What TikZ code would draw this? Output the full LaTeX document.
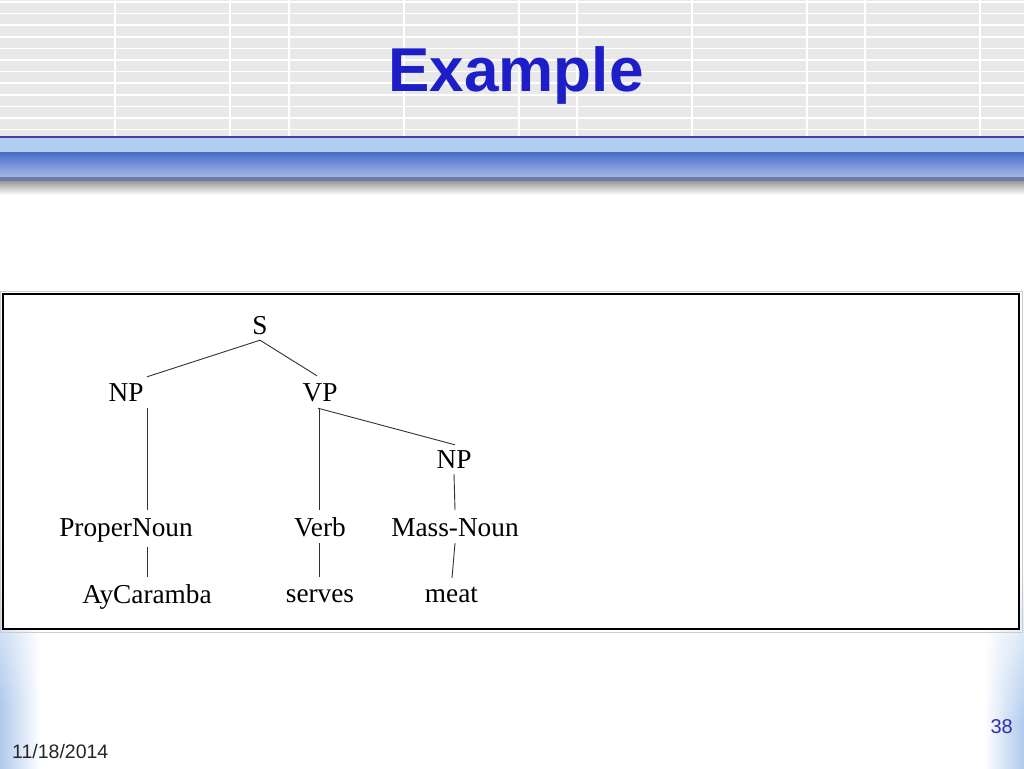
\documentclass[tikz,border=0pt]{standalone}
\usepackage{fontspec}
\newfontfamily\sansf{Liberation Sans}
\newfontfamily\seriff{Liberation Serif}
\definecolor{titleblue}{RGB}{30,30,200}
\definecolor{numblue}{RGB}{48,48,168}
\definecolor{hdrgrey}{RGB}{232,232,232}
\definecolor{hdrline}{RGB}{64,64,160}
\definecolor{bandlight}{RGB}{178,206,238}
\definecolor{banddark}{RGB}{70,108,200}
\definecolor{bandlow}{RGB}{168,184,230}
\definecolor{bandshadow}{RGB}{110,124,164}
\definecolor{sideblue}{RGB}{176,202,238}
\definecolor{treeline}{RGB}{50,50,50}
\tikzset{
  treenode/.style={font=\seriff\fontsize{27.3}{32}\selectfont, inner sep=0pt, anchor=base, text height=18pt, text depth=6pt},
  treeedge/.style={draw=treeline, line width=0.9pt},
}
\begin{document}
\begin{tikzpicture}[x=1pt,y=-1pt]
% page
\fill[white] (0,0) rectangle (1024,768);
\useasboundingbox (0,0) rectangle (1024,768);
% header grid
\fill[hdrgrey] (0,0) rectangle (1024,136);
\foreach \k in {0,...,11}{
  \draw[white, line width=1.6pt] (0,{2+11.6*\k}) -- (1024,{2+11.6*\k});
}
\foreach \xx in {115,230,289,404,519,577,692,807,865,980}{
  \draw[white, line width=1.4pt] (\xx,0) -- (\xx,136);
}
% blue band
\fill[bandlight] (0,137) rectangle (1024,152);
\draw[hdrline, line width=1.5pt] (0,137) -- (1024,137);
\shade[top color=banddark, bottom color=bandlow] (0,152) rectangle (1024,177);
\fill[bandshadow] (0,177) rectangle (1024,181);
\shade[top color=black!40, bottom color=white] (0,181) rectangle (1024,195);
% side gradients
\foreach \yy in {520,524,...,764}{
  \pgfmathtruncatemacro\pp{min(100,max(0,(\yy-520)/180*100))}
  \shade[left color=sideblue!\pp!white, right color=white] (0,\yy) rectangle (40,\yy+4.5);
}
\foreach \yy in {560,564,...,764}{
  \pgfmathtruncatemacro\pp{min(100,max(0,(\yy-560)/160*100))}
  \shade[left color=white, right color=sideblue!\pp!white] (984,\yy) rectangle (1024,\yy+4.5);
}
% title
\node[font=\sansf\bfseries\fontsize{62}{70}\selectfont, text=titleblue, inner sep=0pt, anchor=base] (title) at (516,91) {Example};
% box
\draw[black!20, line width=1pt] (0.5,291) rectangle (1022,632);
\draw[black, line width=2pt, fill=white] (3,294) rectangle (1019,629);
% tree nodes
\node[treenode] (S) at (260,334) {S};
\node[treenode] (NP) at (126,401) {NP};
\node[treenode] (VP) at (320,401) {VP};
\node[treenode] (NP2) at (454,468) {NP};
\node[treenode] (PN) at (126,536) {ProperNoun};
\node[treenode] (Verb) at (320,536) {Verb};
\node[treenode] (MN) at (455,536) {Mass-Noun};
\node[treenode] (Ay) at (147,603) {AyCaramba};
\node[treenode] (serves) at (320,602) {serves};
\node[treenode] (meat) at (451.5,602) {meat};
% tree edges
\draw[treeedge] (S.south) -- ([shift={(21,-6)}]NP.north);
\draw[treeedge] (S.south) -- ([shift={(-3,-7)}]VP.north);
\draw[treeedge] ([shift={(21,1)}]NP.south) -- ([shift={(21,-8)}]PN.north);
\draw[treeedge] ([shift={(21,5)}]PN.south) -- ([shift={(0,-8)}]Ay.north);
\draw[treeedge] ([shift={(-1,1)}]VP.south) -- ([shift={(-1,-8)}]Verb.north);
\draw[treeedge] ([shift={(-2,1)}]VP.south) -- ([shift={(1,-5)}]NP2.north);
\draw[treeedge] (NP2.south) -- ([shift={(0,-8)}]MN.north);
\draw[treeedge] ([shift={(-1,1)}]Verb.south) -- ([shift={(-1,-7)}]serves.north);
\draw[treeedge] ([shift={(0,1)}]MN.south) -- ([shift={(0.5,-6)}]meat.north);
% footer
\node[font=\sansf\fontsize{19.5}{23}\selectfont, text=black!85, inner sep=0pt, anchor=base west] (date) at (12,758) {11/18/2014};
\node[font=\sansf\fontsize{20}{24}\selectfont, text=numblue, inner sep=0pt, anchor=base east] (page) at (1013,733) {38};
\end{tikzpicture}
\end{document}
